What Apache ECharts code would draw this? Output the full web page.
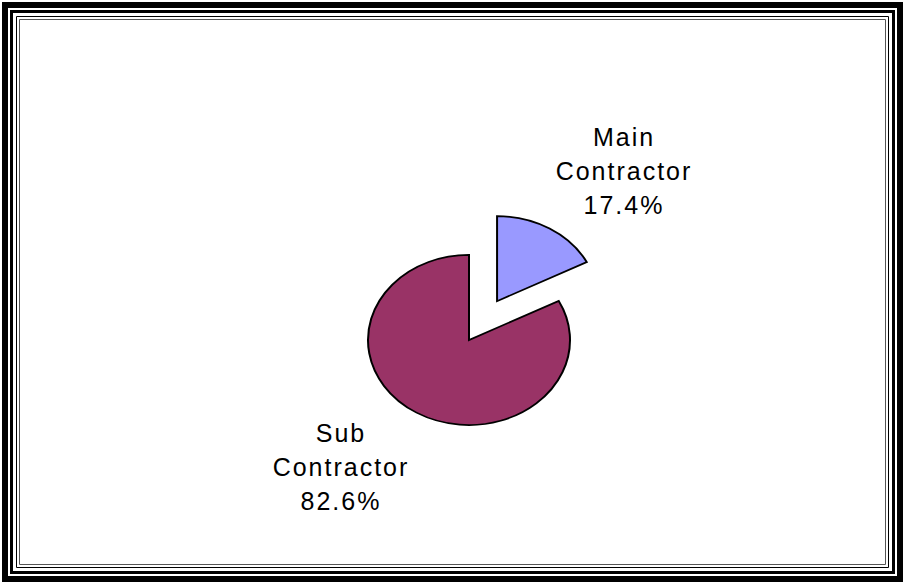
<!DOCTYPE html>
<html>
<head>
<meta charset="utf-8">
<script src="https://cdn.jsdelivr.net/npm/echarts@6/dist/echarts.min.js"></script>
<style>
  html, body { margin: 0; padding: 0; background: #fff; }
  #chart { width: 905px; height: 584px; }
  /* excel-ish spaced letters on the labels */
  #chart text { letter-spacing: 2px; }
</style>
</head>
<body>
<div id="chart"></div>
<script>
// data
const categories = ['Main\nContractor', 'Sub\nContractor'];
const shares = [17.4, 82.6];

// look
const sliceColors = ['#9999ff', '#993366'];
const explode = [54, 0];          // pull-out of each slice (px, circle space)
const CENTER = [469, 340];
const RADIUS = 101;
const TILT = 0.842;               // squash the pie into an ellipse
const labelPos = [[624, 171], [341, 467]];

const total = shares.reduce((a, b) => a + b, 0);

function renderSlice(params, api) {
  const i = params.dataIndex;
  let before = 0;
  for (let j = 0; j < i; j++) before += shares[j];
  const start = -Math.PI / 2 + before / total * Math.PI * 2;
  const end = start + api.value(0) / total * Math.PI * 2;
  const mid = (start + end) / 2;
  const cx = CENTER[0] + Math.cos(mid) * explode[i];
  const cy = CENTER[1] + Math.sin(mid) * explode[i] * TILT;
  return {
    type: 'group',
    children: [{
      type: 'sector',
      x: cx,
      y: cy,
      scaleY: TILT,
      shape: { cx: 0, cy: 0, r0: 0, r: RADIUS, startAngle: start, endAngle: end, clockwise: true },
      style: { fill: sliceColors[i], stroke: '#000', lineWidth: 2 }
    }, {
      type: 'text',
      x: labelPos[i][0],
      y: labelPos[i][1],
      style: {
        text: categories[i] + '\n' + api.value(0).toFixed(1) + '%',
        fontFamily: '"Liberation Sans", Arial, sans-serif',
        fontSize: 25,
        lineHeight: 34,
        fill: '#000',
        align: 'center',
        verticalAlign: 'middle'
      }
    }]
  };
}

const chart = echarts.init(document.getElementById('chart'), null, { renderer: 'svg' });

chart.setOption({
  animation: false,
  backgroundColor: '#fff',
  graphic: [
    { type: 'rect', z: 0, shape: { x: 5, y: 5, width: 895, height: 574 }, style: { fill: 'none', stroke: '#000', lineWidth: 6 } },
    { type: 'rect', z: 0, shape: { x: 11.5, y: 11.5, width: 882, height: 561 }, style: { fill: 'none', stroke: '#000', lineWidth: 3 } },
    { type: 'rect', z: 0, shape: { x: 16.5, y: 16.5, width: 872, height: 551 }, style: { fill: 'none', stroke: '#000', lineWidth: 1 } },
    { type: 'rect', z: 0, shape: { x: 19.5, y: 19.5, width: 866, height: 545 }, style: { fill: 'none', stroke: '#555', lineWidth: 1 } }
  ],
  series: [{
    type: 'custom',
    coordinateSystem: 'none',
    renderItem: renderSlice,
    data: shares
  }]
});
</script>
</body>
</html>
